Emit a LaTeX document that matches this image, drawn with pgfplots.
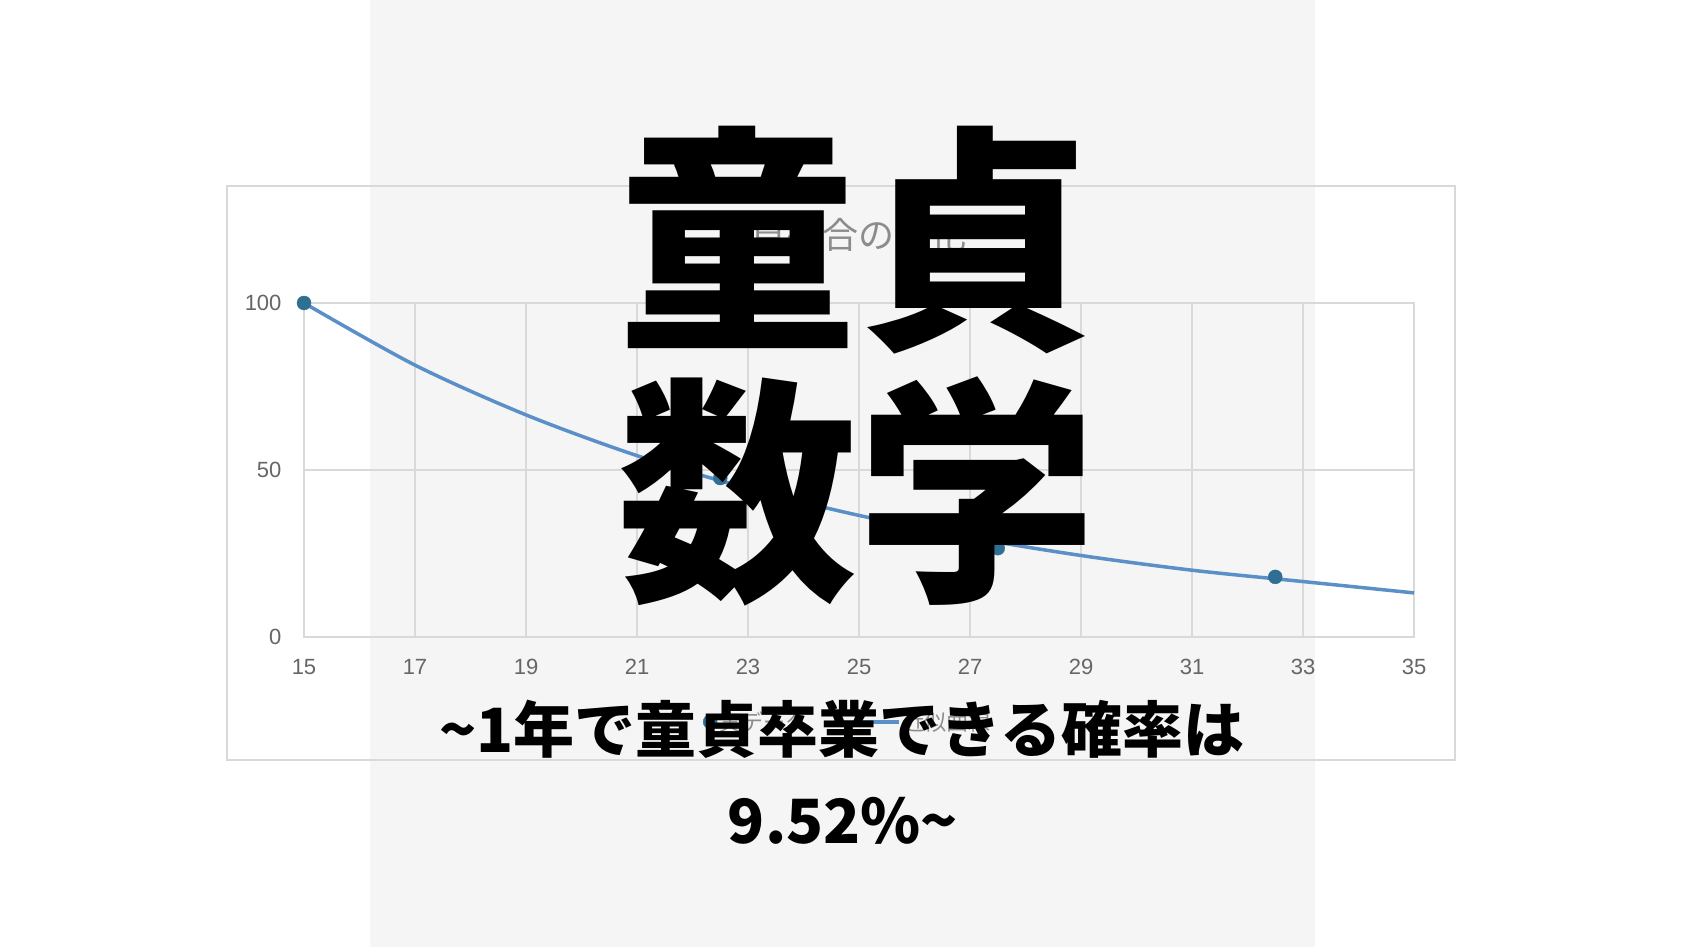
\documentclass[border=0pt]{standalone}
\usepackage{fontspec}
\setmainfont{Liberation Sans}
\newfontfamily\cjk{Noto Sans CJK JP}
\usepackage{pgfplots}
\pgfplotsset{compat=1.18}
\definecolor{band}{HTML}{F5F5F5}
\definecolor{framec}{HTML}{D9D9D9}
\definecolor{gridc}{HTML}{D9D9D9}
\definecolor{tickc}{HTML}{666666}
\definecolor{titlec}{HTML}{8C8C8C}
\definecolor{linec}{HTML}{5B8FC7}
\definecolor{markc}{HTML}{2F6F94}
\pgfplotsset{trendlegend/.style={legend image code/.code={\draw[#1] (0pt,0pt) -- (60pt,0pt);}}}
\begin{document}
\begin{tikzpicture}[x=1pt,y=1pt]
\useasboundingbox (0,0) rectangle (1683,947);
\fill[white] (0,0) rectangle (1683,947);
\fill[band] (370,0) rectangle (1315,947);
\draw[framec, line width=2pt] (227,187) rectangle (1455,761);
\node[font=\cjk\fontsize{36}{40}\selectfont, text=titlec] at (840,712) {童貞割合の変化};
\begin{axis}[
  scale only axis, width=1110pt, height=334pt,
  at={(304pt,310pt)}, anchor=south west,
  xmin=15, xmax=35, ymin=0, ymax=100,
  xtick={15,17,...,35}, ytick={0,50,100},
  grid=major, grid style={gridc, line width=1.5pt},
  axis line style={gridc, line width=1.5pt},
  major tick length=0pt,
  ticklabel style={font=\fontsize{22}{26}\selectfont, text=tickc},
  /pgf/number format/assume math mode=true,
  xticklabel style={yshift=-19pt},
  yticklabel style={xshift=-19pt},
  reverse legend,
  legend style={at={(axis description cs:0.49,-0.254)}, anchor=center,
    draw=none, fill=none, font=\cjk\fontsize{22}{26}\selectfont, text=titlec,
    legend columns=-1, /tikz/every even column/.append style={column sep=28pt}},
  legend cell align=left,
]
\addplot[linec, line width=3.5pt, smooth, no marks, trendlegend]
  coordinates {(15,100) (17,81.4) (19,66.5) (21,54.3) (23,44.5) (25,36.4) (27,29.8) (29,24.4) (31,20.0) (33,16.6) (35,13.2)};
\addlegendentry{近似曲線}
\addplot[only marks, mark=*, mark size=7pt, mark options={fill=markc, draw=markc}]
  coordinates {(15,100) (22.5,47.6) (27.5,26.6) (32.5,18.0)};
\addlegendentry{実データ}
\end{axis}
\node[anchor=base, font=\cjk\bfseries\fontsize{239}{254}\selectfont] at (857,616) {童貞};
\node[anchor=base, font=\cjk\bfseries\fontsize{239}{254}\selectfont] at (857,364) {数学};
\node[anchor=base, font=\cjk\bfseries\fontsize{61}{70}\selectfont] at (842,194) {\textasciitilde 1年で童貞卒業できる確率は};
\node[anchor=base, font=\cjk\bfseries\fontsize{61}{70}\selectfont] at (843,103) {9.52\%\textasciitilde};
\end{tikzpicture}
\end{document}
